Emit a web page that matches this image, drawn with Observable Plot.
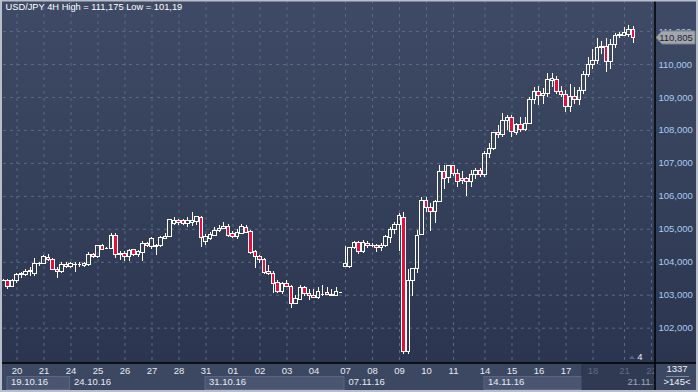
<!DOCTYPE html>
<html><head><meta charset="utf-8">
<script src="https://cdn.jsdelivr.net/npm/d3@7"></script>
<script src="https://cdn.jsdelivr.net/npm/@observablehq/plot@0.6"></script>
<style>
html,body{margin:0;padding:0;background:#2f3a54;}
#chart{width:698px;height:392px;overflow:hidden;}
svg{display:block;}
</style></head><body><div id="chart"></div>
<script>
const title = "USD/JPY 4H High = 111,175 Low = 101,19";
const openP = [103.44,103.44,103.26,103.44,103.60,103.62,103.70,103.65,103.95,103.95,
104.13,104.07,103.77,103.70,103.93,103.87,103.92,103.92,103.90,103.92,
104.23,104.15,104.48,104.42,104.41,104.79,104.21,104.26,104.15,104.36,
104.21,104.29,104.56,104.45,104.50,104.48,104.71,104.78,105.15,105.25,
105.25,105.17,105.19,105.21,105.35,104.61,104.71,104.81,104.94,105.01,
105.08,104.86,104.78,104.86,105.04,104.91,104.30,104.15,104.07,103.71,
103.65,103.37,103.09,103.33,103.26,102.74,102.86,103.22,103.04,102.98,
102.91,103.02,103.06,103.02,102.99,103.09,103.85,103.85,104.44,104.58,
104.30,104.56,104.50,104.48,104.44,104.48,104.74,104.98,105.12,105.35,
101.27,103.43,103.80,104.83,105.87,105.65,105.52,105.82,106.75,106.56,
106.91,106.68,106.53,106.53,106.43,106.65,106.76,106.66,107.27,107.44,
107.92,107.85,108.28,108.38,107.92,108.15,108.02,108.20,108.93,109.16,
109.03,109.09,109.50,109.54,109.16,109.06,108.70,109.01,108.93,109.21,
109.67,109.97,110.12,110.50,110.53,110.07,110.58,110.85,110.88,110.91,111.05];
const highP = [103.47,103.47,103.49,103.67,103.70,103.77,103.85,104.10,104.00,104.20,
104.25,104.10,103.85,104.00,103.98,104.00,104.00,103.98,104.00,104.31,
104.28,104.52,104.55,104.45,104.86,104.86,104.34,104.32,104.38,104.38,
104.36,104.62,104.60,104.76,104.55,104.78,104.86,105.30,105.35,105.30,
105.30,105.37,105.52,105.40,105.40,104.85,104.90,105.05,105.10,105.20,
105.15,104.92,104.98,105.15,105.10,104.97,104.35,104.20,104.12,103.90,
103.72,103.45,103.40,103.45,103.28,102.98,103.30,103.26,103.16,103.16,
103.22,103.30,103.24,103.16,103.22,103.09,104.48,104.46,104.62,104.64,
104.66,104.62,104.56,104.54,104.56,104.82,105.06,105.22,105.47,105.50,
103.78,103.80,104.96,105.97,105.97,105.78,105.87,106.94,106.94,106.94,
106.94,106.80,106.75,106.58,106.78,106.84,106.84,107.35,107.61,107.95,
108.15,108.52,108.45,108.45,108.22,108.38,108.40,109.00,109.30,109.33,
109.27,109.72,109.74,109.64,109.33,109.22,109.40,109.30,109.30,109.78,
110.20,110.45,110.80,110.70,110.80,110.75,110.95,110.98,111.12,111.175,111.15];
const lowP = [103.41,103.16,103.22,103.35,103.50,103.56,103.58,103.57,103.88,103.92,
104.02,103.75,103.50,103.65,103.80,103.80,103.70,103.85,103.85,103.88,
104.10,104.10,104.35,104.38,104.38,104.10,104.05,104.03,104.03,104.18,
104.15,104.03,104.45,104.40,104.22,104.45,104.68,104.75,105.10,105.12,
105.10,105.06,105.09,105.12,104.46,104.50,104.65,104.78,104.90,104.98,
104.75,104.72,104.70,104.83,104.86,104.25,103.80,103.95,103.62,103.60,
103.06,103.06,103.02,103.22,102.60,102.71,102.84,102.95,102.85,102.92,
102.88,102.95,102.98,102.97,102.96,103.09,103.83,103.82,104.40,104.23,
104.26,104.42,104.44,104.30,104.32,104.46,104.56,104.85,104.34,101.19,
101.20,102.96,103.66,104.80,105.52,104.94,105.17,105.80,106.20,106.40,
106.60,106.26,106.35,105.99,106.27,106.52,106.56,106.58,107.15,107.38,
107.75,107.78,108.00,107.78,107.85,107.93,107.98,108.18,108.80,108.76,
108.78,109.00,109.31,109.08,109.00,108.55,108.55,108.80,108.75,109.10,
109.60,109.85,110.00,110.30,109.77,109.85,110.50,110.80,110.84,110.81,110.63];
const closeP = [103.44,103.26,103.44,103.60,103.65,103.70,103.73,103.95,103.95,104.15,
104.07,103.77,103.70,103.93,103.85,103.95,103.92,103.92,103.95,104.23,
104.16,104.48,104.38,104.42,104.79,104.23,104.26,104.15,104.33,104.21,
104.31,104.56,104.48,104.71,104.46,104.73,104.78,105.27,105.25,105.18,
105.15,105.25,105.25,105.37,104.74,104.78,104.82,104.96,105.01,105.08,
104.81,104.78,104.88,105.06,104.89,104.27,104.17,104.07,103.67,103.65,
103.35,103.09,103.33,103.26,102.74,102.89,103.22,103.04,102.99,102.92,
103.09,103.02,103.00,102.97,103.11,103.09,103.95,104.44,104.58,104.30,
104.59,104.48,104.50,104.44,104.50,104.76,104.98,105.12,105.39,101.29,
103.43,103.80,104.81,105.87,105.65,105.52,105.82,106.75,106.53,106.91,
106.68,106.43,106.46,106.43,106.66,106.76,106.66,107.27,107.44,107.92,
107.85,108.30,108.38,107.95,108.15,108.02,108.20,108.93,109.16,109.03,
109.11,109.54,109.55,109.16,109.06,108.70,109.01,108.93,109.21,109.67,
109.97,110.12,110.50,110.53,110.07,110.58,110.85,110.90,110.95,111.05,110.805];
const dayLabels = ["20","21","24","25","26","27","28","31","01","02","03","04","07","08","09","10","11","14","15","16","17","18","21","22"];
const dayStart = [3,9,15,21,27,33,39,45,51,57,63,69,76,82,88,94,100,107,113,119,125,131,138,144];
const weekLabels = ["19.10.16","24.10.16","31.10.16","07.11.16","14.11.16","21.11.16"];
const weekStart = [1,15,45,76,107,138];
const priceTicks = [102,103,104,105,106,107,108,109,110,111];
const lastPrice = 110.805;
const barsCount = "1337";
const barsShown = ">145<";

const candles = openP.map((o, i) => ({i, o, h: highP[i], l: lowP[i], c: closeP[i]}));
const up = candles.filter(d => d.c >= d.o);
const down = candles.filter(d => d.c < d.o);
const doji = candles.filter(d => Math.abs(d.c - d.o) < 0.02);
const dayMap = new Map(dayStart.map((d, k) => [d, dayLabels[k]]));
const comma = d => d.toFixed(3).replace(".", ",");
const HW = 0.34;

const chart = Plot.plot({
  width: 698, height: 392,
  marginLeft: 3, marginRight: 43, marginTop: 0, marginBottom: 29,
  style: {fontFamily: "'Liberation Sans', Arial, sans-serif", fontSize: "9.5px", background: "transparent", color: "#e6ebf2", overflow: "visible"},
  x: {domain: [0, 144.89]},
  y: {domain: [100.928, 111.942]},
  marks: [
    Plot.gridY(priceTicks, {stroke: "#5d6985", strokeOpacity: 1, strokeDasharray: "3,4"}),
    Plot.gridX(dayStart, {stroke: "#5d6985", strokeOpacity: 1, strokeDasharray: "3,4"}),
    Plot.ruleX(candles, {x: "i", y1: "l", y2: d => Math.min(d.o, d.c), stroke: "#ffffff", strokeWidth: 1, shapeRendering: "crispEdges"}),
    Plot.ruleX(candles, {x: "i", y1: d => Math.max(d.o, d.c), y2: "h", stroke: "#ffffff", strokeWidth: 1, shapeRendering: "crispEdges"}),
    Plot.rect(up, {x1: d => d.i - HW, x2: d => d.i + HW, y1: "o", y2: "c", fill: "none", stroke: "#ffffff", strokeWidth: 1, shapeRendering: "crispEdges"}),
    Plot.rect(down, {x1: d => d.i - HW, x2: d => d.i + HW, y1: "o", y2: "c", fill: "#e3103d", stroke: "#ffffff", strokeWidth: 1, shapeRendering: "crispEdges"}),
    Plot.ruleY(doji, {y: "c", x1: d => d.i - HW - 0.1, x2: d => d.i + HW + 0.1, stroke: "#ffffff", strokeWidth: 1, shapeRendering: "crispEdges"}),
    Plot.axisY(priceTicks, {anchor: "right", tickSize: 0, tickPadding: 3, tickFormat: comma, fill: "#a9cbf2", fontSize: 9.5}),
    Plot.axisX(dayStart.filter(d => d < 131), {anchor: "bottom", tickSize: 0, tickPadding: 4, tickFormat: d => dayMap.get(d), fill: "#e6ebf2", fontSize: 9.5}),
    Plot.axisX(dayStart.filter(d => d >= 131), {anchor: "bottom", tickSize: 0, tickPadding: 4, tickFormat: d => dayMap.get(d), fill: "#8593ab", fontSize: 9.5}),
    Plot.text(weekLabels, {x: (d, k) => weekStart[k], y: 100.37, dx: 3, text: d => d, textAnchor: "start", fill: "#e6ebf2", fontSize: 9.5}),
    Plot.text([title], {frameAnchor: "top-left", dx: 2, dy: 3, text: d => d, textAnchor: "start", lineAnchor: "top", fill: "#ffffff", fontSize: 9.3})
  ]
});

const svg = d3.select(chart);
const X = chart.scale("x").apply, Y = chart.scale("y").apply;
const W = 698, H = 392, PB = 363, PR = 655;
const back = svg.insert("g", ":first-child");
const defs = back.append("defs");
const lg = defs.append("linearGradient").attr("id", "bgGrad").attr("x1", 0).attr("y1", 0).attr("x2", 0).attr("y2", 1);
lg.append("stop").attr("offset", "0%").attr("stop-color", "#3f4b66");
lg.append("stop").attr("offset", "100%").attr("stop-color", "#2b354f");
back.append("rect").attr("x", 0).attr("y", 0).attr("width", W).attr("height", PB).attr("fill", "url(#bgGrad)");
back.append("rect").attr("x", 0).attr("y", PB).attr("width", W).attr("height", H - PB).attr("fill", "#3c4761");
// week boxes (alternate weeks)
[0, 2, 4].forEach(k => {
  const x1 = X(weekStart[k]) - 0.5;
  const x2 = k === 4 ? X(128.67) : X(weekStart[k + 1]) - 1;
  back.append("rect").attr("x", x1).attr("y", 376.5).attr("width", x2 - x1).attr("height", 13)
    .attr("fill", "#4a5671").attr("stroke", "#5b6782").attr("stroke-width", 1);
});
// shaded tail of the time strip
const front = svg.append("g");
front.append("rect").attr("x", X(128.67)).attr("y", PB).attr("width", PR - X(128.67)).attr("height", H - PB)
  .attr("fill", "#1a2238").attr("fill-opacity", 0.35);
front.append("line").attr("x1", X(128.67)).attr("x2", X(128.67)).attr("y1", PB).attr("y2", H).attr("stroke", "#2a334a");
// bottom-right info box
front.append("rect").attr("x", PR).attr("y", PB).attr("width", W - PR).attr("height", H - PB).attr("fill", "#3c4761");
front.append("text").attr("x", 677).attr("y", 372).attr("text-anchor", "middle").attr("fill", "#eef2f8").attr("font-size", 9.5).text(barsCount);
front.append("line").attr("x1", 666).attr("x2", 689).attr("y1", 376.5).attr("y2", 376.5).attr("stroke", "#7c8aa3");
front.append("text").attr("x", 677).attr("y", 385).attr("text-anchor", "middle").attr("fill", "#eef2f8").attr("font-size", 9.5).text(barsShown);
// small marker
front.append("path").attr("d", "M629,359 L632,355.5 L635,359 Z").attr("fill", "#55627d");
front.append("text").attr("x", 640).attr("y", 360).attr("text-anchor", "middle").attr("fill", "#e6ebf2").attr("font-size", 9.5).text("4");
// last price tag
const ly = Y(lastPrice);
front.append("path").attr("d", `M${PR + 1},${ly} L${PR + 7},${ly - 6.5} L${W - 3},${ly - 6.5} L${W - 3},${ly + 6.5} L${PR + 7},${ly + 6.5} Z`)
  .attr("fill", "#a3a7ad").attr("stroke", "#7d838c");
front.append("text").attr("x", 676).attr("y", ly + 3.5).attr("text-anchor", "middle").attr("fill", "#1e2534").attr("font-size", 9.5).text(comma(lastPrice));
// separators
front.append("line").attr("x1", PR).attr("x2", PR).attr("y1", 0).attr("y2", H).attr("stroke", "#000").attr("stroke-width", 1.5);
front.append("line").attr("x1", 0).attr("x2", W).attr("y1", PB).attr("y2", PB).attr("stroke", "#000").attr("stroke-width", 1.5);
// outer frame
front.append("rect").attr("x", 1).attr("y", 0.5).attr("width", W - 2).attr("height", H - 1.5)
  .attr("fill", "none").attr("stroke", "#b9bfca").attr("stroke-width", 2);
// keep the price tag label above axis labels: move axis? tag already drawn on top
document.getElementById("chart").appendChild(chart);
</script></body></html>
